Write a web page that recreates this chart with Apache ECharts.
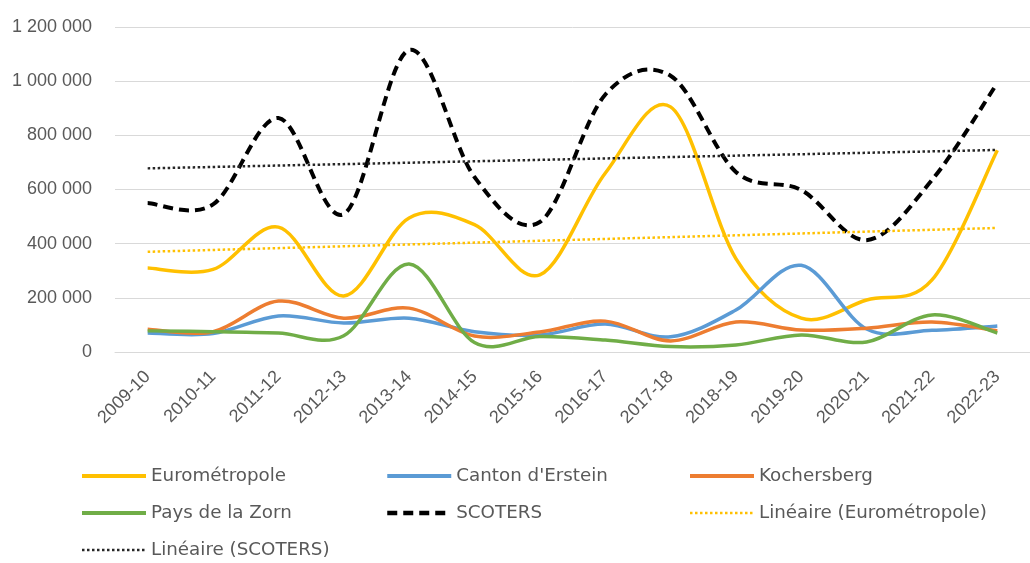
<!DOCTYPE html>
<html>
<head>
<meta charset="utf-8">
<script src="https://cdn.jsdelivr.net/npm/echarts@6/dist/echarts.min.js"></script>
<style>
  html, body { margin: 0; padding: 0; background: #fff; }
  #chart { width: 1030px; height: 563px; }
</style>
</head>
<body>
<div id="chart"></div>
<script>
// categories (x axis)
const categories = ['2009-10', '2010-11', '2011-12', '2012-13', '2013-14', '2014-15', '2015-16',
  '2016-17', '2017-18', '2018-19', '2019-20', '2020-21', '2021-22', '2022-23'];

// series values
const eurometropole = [310000, 305000, 461000, 207000, 495000, 470000, 285000, 660000, 905000, 345000, 125000, 192000, 266000, 745000];
const cantonErstein = [70000, 68000, 133000, 107000, 125000, 75000, 63000, 103000, 56000, 155000, 320000, 85000, 80000, 96000];
const kochersberg = [84000, 75000, 188000, 125000, 162000, 59000, 74000, 114000, 41000, 111000, 81000, 88000, 111000, 78000];
const paysZorn = [78000, 75000, 70000, 60000, 325000, 35000, 57000, 44000, 20000, 26000, 63000, 37000, 137000, 70000];
const scoters = [550000, 545000, 864000, 509000, 1115000, 646000, 480000, 950000, 1020000, 665000, 598000, 413000, 635000, 993000];

// trend lines: start and end values (first and last category)
const trendEuro = [370000, 458000];
const trendScoters = [678000, 746000];

// y axis ticks
const yTicks = [0, 200000, 400000, 600000, 800000, 1000000, 1200000];

const txt = '#595959';
const axisFont = '"Liberation Sans", Arial, sans-serif';
const legendFont = '"DejaVu Sans", sans-serif';

function fmt(v) {
    return String(v).replace(/\B(?=(\d{3})+(?!\d))/g, ' ');
}

function ends(arr) {
    return [[categories[0], arr[0]], [categories[categories.length - 1], arr[1]]];
}

// excel-like smoothed line (catmull-rom through the points)
function smoothPath(pts) {
    let d = 'M' + pts[0][0] + ',' + pts[0][1];
    for (let i = 0; i < pts.length - 1; i++) {
        let p0 = pts[i - 1] || pts[i];
        let p1 = pts[i];
        let p2 = pts[i + 1];
        let p3 = pts[i + 2] || p2;
        let c1x = p1[0] + (p2[0] - p0[0]) / 6;
        let c1y = p1[1] + (p2[1] - p0[1]) / 6;
        let c2x = p2[0] - (p3[0] - p1[0]) / 6;
        let c2y = p2[1] - (p3[1] - p1[1]) / 6;
        d += ' C' + c1x + ',' + c1y + ' ' + c2x + ',' + c2y + ' ' + p2[0] + ',' + p2[1];
    }
    return d;
}

let myChart = echarts.init(document.getElementById('chart'));

// legend-only line series (no data) + custom series that draws the curve
function smoothSeries(name, values, color, lineStyle) {
    return [{
        name: name,
        type: 'line',
        data: [],
        symbol: 'none',
        lineStyle: lineStyle,
        itemStyle: { color: color }
    }, {
        name: name,
        type: 'custom',
        data: [0],
        silent: true,
        renderItem: function (params, api) {
            let pts = values.map(function (v, i) { return api.coord([i, v]); });
            return {
                type: 'path',
                shape: { pathData: smoothPath(pts) },
                style: {
                    fill: null,
                    stroke: color,
                    lineWidth: lineStyle.width,
                    lineDash: lineStyle.type instanceof Array ? lineStyle.type : null,
                    lineJoin: 'round'
                }
            };
        }
    }];
}

function trendSeries(name, data, color) {
    return {
        name: name,
        type: 'line',
        data: ends(data),
        symbol: 'none',
        lineStyle: { color: color, width: 2.5, type: [2.5, 2.5] },
        itemStyle: { color: color }
    };
}

function legendItem(name, width) {
    return { name: name, lineStyle: { width: width } };
}

let legendBase = {
    orient: 'vertical',
    top: 467,
    padding: 0,
    itemWidth: 64,
    itemHeight: 14,
    itemGap: 19,
    // hide the marker dot, keep only the line
    itemStyle: { color: 'rgba(0,0,0,0)', borderWidth: 0 },
    textStyle: { color: txt, fontSize: 18.3, fontFamily: legendFont }
};

let option = {
    animation: false,
    grid: {
        left: 115,
        top: 27,
        width: 926,
        height: 325
    },
    legend: [
        Object.assign({}, legendBase, {
            left: 80,
            data: [legendItem('Eurométropole', 4), legendItem('Pays de la Zorn', 4), legendItem('Linéaire (SCOTERS)', 2.5)]
        }),
        Object.assign({}, legendBase, {
            left: 385,
            data: [legendItem("Canton d'Erstein", 4), legendItem('SCOTERS', 4.5)]
        }),
        Object.assign({}, legendBase, {
            left: 688,
            data: [legendItem('Kochersberg', 4), legendItem('Linéaire (Eurométropole)', 2.5)]
        })
    ],
    xAxis: {
        type: 'category',
        data: categories,
        boundaryGap: true,
        axisLine: { lineStyle: { color: '#d9d9d9', width: 1 } },
        axisTick: { show: false },
        axisLabel: {
            color: txt,
            fontSize: 18,
            fontFamily: axisFont,
            rotate: 45,
            margin: 22,
            interval: 0
        }
    },
    yAxis: {
        type: 'value',
        min: yTicks[0],
        max: yTicks[yTicks.length - 1],
        interval: yTicks[1] - yTicks[0],
        axisLine: { show: false },
        axisTick: { show: false },
        splitLine: { lineStyle: { color: '#d9d9d9', width: 1 } },
        axisLabel: {
            color: txt,
            fontSize: 18,
            fontFamily: axisFont,
            margin: 23,
            formatter: fmt
        }
    },
    series: [].concat(
        smoothSeries('Eurométropole', eurometropole, '#FFC000', { color: '#FFC000', width: 3.5 }),
        smoothSeries("Canton d'Erstein", cantonErstein, '#5B9BD5', { color: '#5B9BD5', width: 3.5 }),
        smoothSeries('Kochersberg', kochersberg, '#ED7D31', { color: '#ED7D31', width: 3.5 }),
        smoothSeries('Pays de la Zorn', paysZorn, '#70AD47', { color: '#70AD47', width: 3.5 }),
        smoothSeries('SCOTERS', scoters, '#000000', { color: '#000000', width: 4, type: [10, 6] }),
        trendSeries('Linéaire (Eurométropole)', trendEuro, '#FFC000'),
        trendSeries('Linéaire (SCOTERS)', trendScoters, '#262626')
    )
};

myChart.setOption(option);
</script>
</body>
</html>
